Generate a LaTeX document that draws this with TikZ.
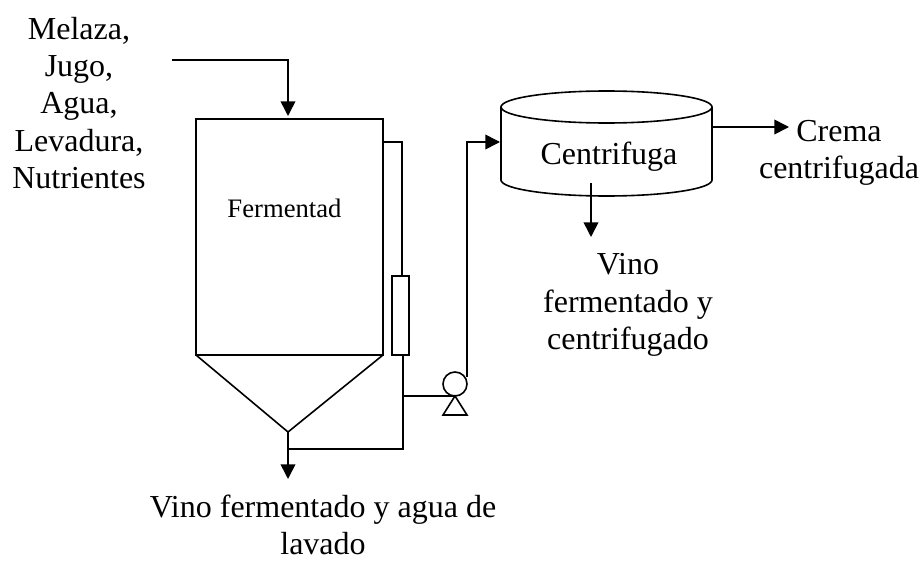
\documentclass[tikz,border=0pt]{standalone}
\usepackage{fontspec}
\setmainfont{Liberation Serif}
\usetikzlibrary{arrows.meta}
\tikzset{
  ln/.style={draw=black,line width=1.2pt},
  arr/.style={ln,-{Triangle[length=11pt,width=11pt]}},
  lbl/.style={font=\fontsize{24}{27.9}\selectfont,align=center,inner sep=0pt},
}
\begin{document}
\begin{tikzpicture}[x=0.75pt,y=-0.75pt]
\useasboundingbox (0,0) rectangle (923,560);
\node[lbl] (feed) at (79,103) {Melaza,\\Jugo,\\Agua,\\Levadura,\\Nutrientes};
\coordinate (feedS) at (172,60);
\coordinate (feedC) at (288,60);
\coordinate (tankT) at (288,116);
\coordinate (tl) at (196,119);
\coordinate (tr) at (383,119);
\coordinate (bl) at (196,355);
\coordinate (br) at (383,355);
\coordinate (apex) at (288,432);
\coordinate (out) at (288,479);
\draw[arr] (feedS) -- (feedC) -- (tankT);
\draw[ln] (tl) -- (tr) -- (br) -- (bl) -- cycle;
\draw[ln] (bl) -- (apex) -- (br);
\draw[arr] (apex) -- (out);
\node[font=\fontsize{20}{23}\selectfont,inner sep=0pt] (ferm) at (284.5,208) {Fermentad};
% loop
\coordinate (l1) at (383,142);
\coordinate (l2) at (402,142);
\coordinate (l3) at (403,449);
\coordinate (l4) at (288,449);
\coordinate (hxTop) at (402,276);
\coordinate (hxBot) at (403,355);
\draw[ln] (392,276) rectangle (409,355);
\draw[ln] (l1) -- (l2) -- (hxTop);
\draw[ln] (hxBot) -- (l3) -- (l4);
% pump
\node[circle,draw=black,line width=1.2pt,minimum size=18pt,inner sep=0pt] (pump) at (455,384) {};
\coordinate (pl) at (403,396);
\coordinate (tp) at (455,396);
\coordinate (tpl) at (443,415);
\coordinate (tpr) at (467,415);
\draw[ln] (pl) -- (tp);
\draw[ln] (tp) -- (tpr) -- (tpl) -- cycle;
\coordinate (u1) at (467,377);
\coordinate (u2) at (467,142);
\coordinate (cenL) at (500,142);
\draw[arr] (u1) -- (u2) -- (cenL);
% centrifuge
\draw[ln] (501,107) -- (501,180) arc[start angle=180,end angle=0,x radius=105.5,y radius=16];
\draw[draw=black,line width=0.8pt] (712,107) -- (712,180);
\draw[ln] (606.5,107) ellipse[x radius=105.5,y radius=16];
\node[lbl] (cen) at (609,157) {Centrifuga};
\coordinate (cenR) at (713,127);
\coordinate (cenRo) at (789,127);
\draw[arr] (cenR) -- (cenRo);
\coordinate (cenB) at (591,183);
\coordinate (cenBo) at (591,237);
\draw[arr] (cenB) -- (cenBo);
\node[lbl] (crema) at (839,152.5) {Crema\\centrifugada};
\node[lbl] (vino) at (628,305) {Vino\\fermentado y\\centrifugado};
\node[lbl] (lavado) at (323,525) {Vino fermentado y agua de\\lavado};
\end{tikzpicture}
\end{document}
